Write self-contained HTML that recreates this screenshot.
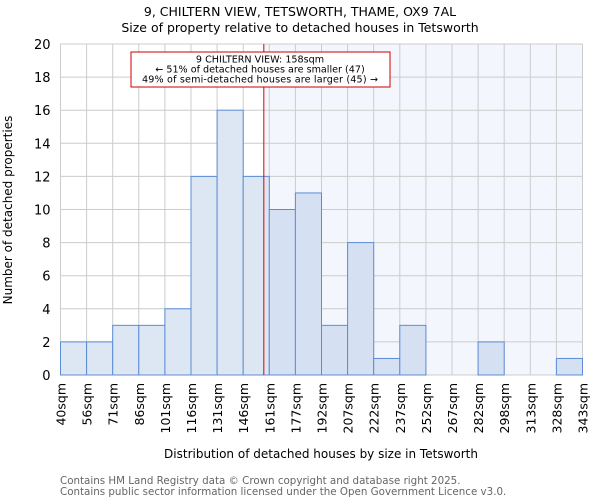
<!DOCTYPE html>
<html><head><meta charset="utf-8"><style>
body{margin:0;background:#fff;font-family:"DejaVu Sans","Liberation Sans",sans-serif}
</style></head><body>
<svg id="chart" width="600" height="500" xmlns="http://www.w3.org/2000/svg" font-family="DejaVu Sans, Liberation Sans, sans-serif">
<text x="300" y="16" text-anchor="middle" font-size="12.5">9, CHILTERN VIEW, TETSWORTH, THAME, OX9 7AL</text>
<text x="300" y="32" text-anchor="middle" font-size="12.5">Size of property relative to detached houses in Tetsworth</text>
<g id="plot"></g>
<text transform="translate(12,210) rotate(-90)" text-anchor="middle" font-size="12">Number of detached properties</text>
<text x="321" y="458" text-anchor="middle" font-size="12">Distribution of detached houses by size in Tetsworth</text>
<text x="60" y="484" font-size="10.3" fill="#666">Contains HM Land Registry data © Crown copyright and database right 2025.</text>
<text x="60" y="495" font-size="10.3" fill="#666">Contains public sector information licensed under the Open Government Licence v3.0.</text>
</svg>
<script>
const categories=["40sqm","56sqm","71sqm","86sqm","101sqm","116sqm","131sqm","146sqm","161sqm","177sqm","192sqm","207sqm","222sqm","237sqm","252sqm","267sqm","282sqm","298sqm","313sqm","328sqm","343sqm"];
const counts=[2,2,3,3,4,12,16,12,10,11,3,8,1,3,0,0,2,0,0,1];
const yTicks=[0,2,4,6,8,10,12,14,16,18,20];
const propertyBin=7.79;
const NS="http://www.w3.org/2000/svg";
const L=60.5,R=582.5,T=44,B=375,yMax=20;
const n=counts.length,bw=(R-L)/n;
const x=i=>L+i*bw;
const y=v=>B-(v/yMax)*(B-T);
const g=document.getElementById('plot');
function mk(t,a){const e=document.createElementNS(NS,t);for(const k in a)e.setAttribute(k,a[k]);g.appendChild(e);return e;}
const px=x(propertyBin);
let e=mk('rect',{x:px,y:T,width:R-px,height:B-T,fill:'#f3f6fd'});


yTicks.forEach(v=>{
 let l=mk('line',{x1:L,x2:R,y1:y(v),y2:y(v),stroke:'#cccccc','stroke-width':1});
 
 
 let t=mk('text',{x:L-10,y:y(v)+5,'text-anchor':'end','font-size':13});
 t.textContent=v;
 
 
});
categories.forEach((c,i)=>{
 let l=mk('line',{x1:x(i),x2:x(i),y1:T,y2:B,stroke:'#cccccc','stroke-width':1});
 
 
 let t=mk('text',{transform:`translate(${x(i)+5},${B+8}) rotate(-90)`,'text-anchor':'end','font-size':12.5});
 t.textContent=c;
 
 
});
counts.forEach((v,i)=>{
 if(v<=0)return;
 let r=mk('rect',{x:x(i),y:y(v),width:bw,height:B-y(v),fill:(i<propertyBin?'#dde6f3':'#d5e0f2'),stroke:'#5b8dd6','stroke-width':1});
 
 
});
e=mk('line',{x1:px,x2:px,y1:T,y2:B,stroke:'#dd0000','stroke-width':1});


e=mk('rect',{x:131,y:52,width:259,height:35,fill:'#fff',stroke:'#cc0000','stroke-width':1});


["9 CHILTERN VIEW: 158sqm","← 51% of detached houses are smaller (47)","49% of semi-detached houses are larger (45) →"].forEach((s,k)=>{
 let t=mk('text',{x:260,y:62.5+k*10,'text-anchor':'middle','font-size':9.6,textLength:(k==2?236:null)});
 if(k!=2)t.removeAttribute('textLength');
 t.textContent=s;
 
 
});
</script>
</body></html>
